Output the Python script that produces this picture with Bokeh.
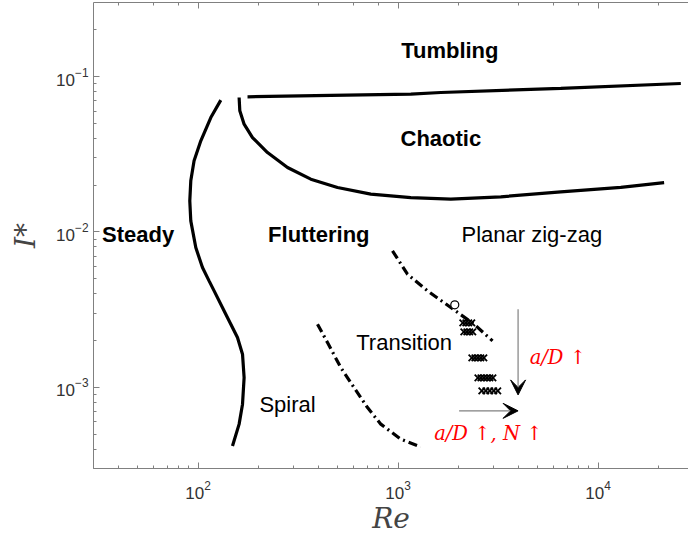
from bokeh.plotting import figure
from bokeh.models import LogAxis, Arrow, VeeHead
from bokeh.core.properties import value
from bokeh.embed import file_html
from bokeh.resources import INLINE

# ---------------- data ----------------
# steady / fluttering boundary (solid)
steady_re = [129.9, 115.8, 103.2, 95.5, 91.95, 90.9, 91.95, 97.4, 105.2, 113.5,
             120.3, 137.6, 157.4, 166.8, 169.9, 166.8, 160.4, 148.6]
steady_i = [0.07058, 0.05453, 0.03860, 0.02870, 0.02133, 0.01586, 0.01179, 0.007932,
            0.005898, 0.004843, 0.004175, 0.002956, 0.002089, 0.001633, 0.001154,
            0.000778, 0.000579, 0.000419]

# fluttering / chaotic boundary (solid)
chaotic_re = [160.4, 161.7, 169.9, 187.1, 222.4, 280.0, 366.1, 497.9, 730.5, 1158,
              1835, 3263, 6510, 12990, 21390]
chaotic_i = [0.07336, 0.06022, 0.04943, 0.04052, 0.03245, 0.02598, 0.02187, 0.01931,
             0.01751, 0.01665, 0.01626, 0.01683, 0.01812, 0.01937, 0.02080]

# chaotic / tumbling boundary (solid)
tumbling_re = [176.7, 460.9, 1158, 1636, 6510, 25920]
tumbling_i = [0.07413, 0.07580, 0.07716, 0.07901, 0.08408, 0.09028]

# transition / planar zig-zag boundary (dash-dot)
upper_re = [937.8, 1114, 1403, 1835, 2399, 2966]
upper_i = [0.007554, 0.005349, 0.004175, 0.003260, 0.002548, 0.001989]

# spiral / transition boundary (dash-dot)
lower_re = [395.5, 443.7, 517.1, 602.7, 703.4, 819.6, 1032, 1299]
lower_i = [0.002548, 0.001940, 0.001339, 0.0009954, 0.0007397, 0.000579, 0.0004632, 0.000413]

# experiments (x markers)
exp_re = [2106, 2181, 2257, 2337,
          2131, 2206, 2283, 2364,
          2337, 2420, 2506, 2594, 2686,
          2506, 2594, 2686, 2781, 2880, 2981,
          2622, 2746, 2875, 3010, 3152]
exp_i = [0.002597] * 4 + [0.002274] * 4 + [0.001547] * 5 + [0.00115] * 6 + [0.000948] * 5

# single open circle
circ_re = [1921]
circ_i = [0.003393]

# arrows
varrow = dict(re=3981, i_start=0.003183, i_end=0.000893)
harrow = dict(i=0.000705, re_start=2019, re_end=3981)

# region labels
bold_labels = ["Tumbling", "Chaotic", "Steady", "Fluttering"]
bold_re = [1814, 1636, 50.15, 401.5]
bold_i = [0.1466, 0.03975, 0.009579, 0.009679]

plain_labels = ["Planar zig-zag", "Transition", "Spiral"]
plain_re = [4663, 1072, 280]
plain_i = [0.00968, 0.001946, 0.000778]

red_labels = ["a/D \u2191", "a/D \u2191, N \u2191"]
red_re = [6290, 2826]
red_i = [0.001546, 0.000501]

# ---------------- figure ----------------
p = figure(width=688, height=537, x_axis_type="log", y_axis_type="log",
           x_range=(30, 28320), y_range=(3e-4, 0.3),
           output_backend="svg", toolbar_location=None,
           min_border_left=93, min_border_right=0, min_border_top=2,
           min_border_bottom=69)
p.grid.visible = False
p.outline_line_color = None
p.background_fill_color = "white"

bottom = p.below[0]
left = p.left[0]
top = LogAxis()
p.add_layout(top, "above")


def style_axis(ax):
    ax.axis_line_color = "#808080"
    ax.axis_line_width = 1
    ax.major_tick_line_color = "#808080"
    ax.minor_tick_line_color = "#808080"
    ax.major_tick_in = 6
    ax.major_tick_out = 0
    ax.minor_tick_in = 3
    ax.minor_tick_out = 0
    ax.major_label_text_font = "Liberation Sans"
    ax.major_label_text_font_size = "17px"
    ax.major_label_text_color = "#333333"


for ax in [bottom, left, top]:
    style_axis(ax)

top.major_label_text_font_size = "1px"
top.major_label_text_color = None
top.major_label_standoff = 0

bottom.axis_label = "Re"
left.axis_label = "I*"
for ax in [bottom, left]:
    ax.axis_label_text_font = "DejaVu Serif"
    ax.axis_label_text_font_style = "italic"
    ax.axis_label_text_font_size = "28px"
    ax.axis_label_text_color = "#444444"
bottom.major_label_standoff = 12
bottom.axis_label_standoff = 0
left.major_label_standoff = 5
left.axis_label_standoff = 11

# boundaries
p.line(steady_re, steady_i, line_color="black", line_width=3.2)
p.line(chaotic_re, chaotic_i, line_color="black", line_width=3.2)
p.line(tumbling_re, tumbling_i, line_color="black", line_width=3.2)
p.line(upper_re, upper_i, line_color="black", line_width=3.2, line_dash="9 4 2 4")
p.line(lower_re, lower_i, line_color="black", line_width=3.2, line_dash="9 4 2 4")

# markers
p.scatter(exp_re, exp_i, marker="x", size=9, line_color="black", line_width=1.8)
p.scatter(circ_re, circ_i, marker="circle", size=8, fill_color="white",
          line_color="black", line_width=1.2)

# arrows
p.add_layout(Arrow(end=VeeHead(size=15, fill_color="black", line_color="black"),
                   x_start=varrow["re"], y_start=varrow["i_start"],
                   x_end=varrow["re"], y_end=varrow["i_end"],
                   line_color="#808080", line_width=1.2))
p.add_layout(Arrow(end=VeeHead(size=15, fill_color="black", line_color="black"),
                   x_start=harrow["re_start"], y_start=harrow["i"],
                   x_end=harrow["re_end"], y_end=harrow["i"],
                   line_color="#808080", line_width=1.2))

# labels
p.text(bold_re, bold_i, text=bold_labels, text_font=value("Liberation Sans"),
       text_font_style="bold", text_font_size="22px", text_color="black",
       text_align="center", text_baseline="middle")
p.text(plain_re, plain_i, text=plain_labels, text_font=value("Liberation Sans"),
       text_font_size="22px", text_color="black",
       text_align="center", text_baseline="middle")
p.text(red_re, red_i, text=red_labels, text_font=value("DejaVu Serif"),
       text_font_style="italic", text_font_size="19.5px", text_color="#ff0000",
       text_align="center", text_baseline="middle")

open("out.html", "w").write(file_html(p, INLINE))
